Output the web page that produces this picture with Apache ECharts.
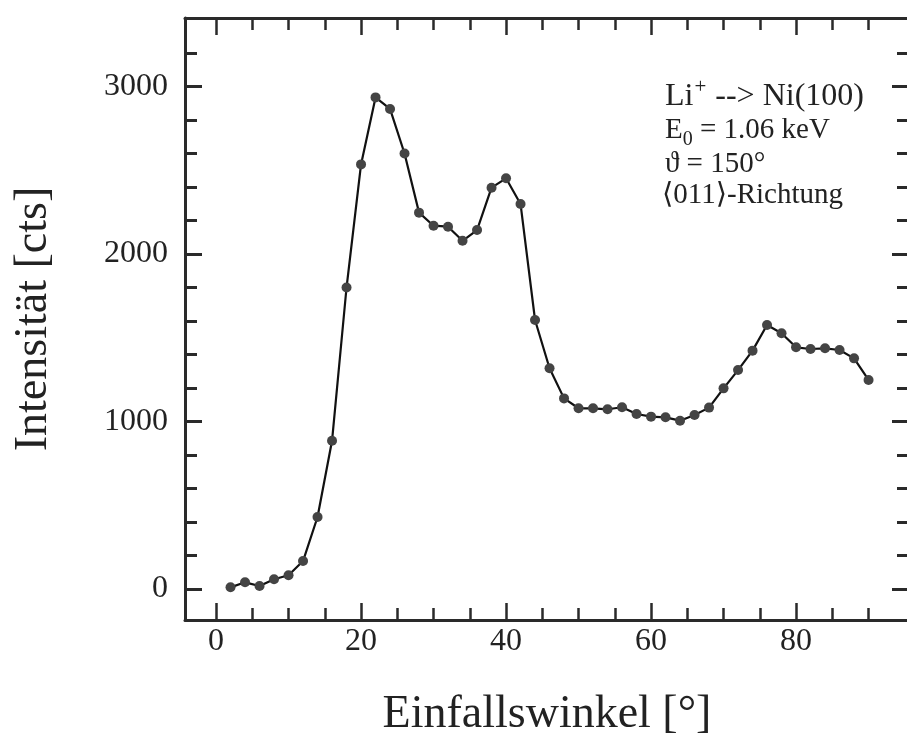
<!DOCTYPE html>
<html><head><meta charset="utf-8">
<script src="https://cdn.jsdelivr.net/npm/echarts@6/dist/echarts.min.js"></script>
<style>html,body{margin:0;padding:0;background:#fff}#c{width:907px;height:733px}</style>
</head><body><div id="c"></div>
<script>
// Data
const angles = [2,4,6,8,10,12,14,16,18,20,22,24,26,28,30,32,34,36,38,40,42,44,46,48,50,52,54,56,58,60,62,64,66,68,70,72,74,76,78,80,82,84,86,88,90];
const counts = [10,40,18,58,82,167,430,885,1800,2535,2935,2866,2600,2247,2169,2163,2079,2143,2396,2452,2299,1606,1318,1138,1079,1079,1073,1085,1045,1029,1025,1005,1039,1083,1198,1307,1423,1576,1527,1443,1433,1437,1427,1377,1248];
const xMajorTicks = [0,20,40,60,80];
const xMinorTicks = [5,10,15,25,30,35,45,50,55,65,70,75,85,90];
const yMajorTicks = [0,1000,2000,3000];
const yMinorTicks = [200,400,600,800,1200,1400,1600,1800,2200,2400,2600,2800,3200];
const xTitle = 'Einfallswinkel [°]';
const yTitle = 'Intensität [cts]';

const FONT = "'Liberation Serif','DejaVu Serif',serif";
const INK = '#222';
const X_MIN = -4.28, X_MAX = 95.58, Y_MIN = -185, Y_MAX = 3409;

function xAx(pos, ticks, len, line, labels, extra) {
  return Object.assign({
    type: 'value', position: pos, min: X_MIN, max: X_MAX,
    axisLine: {show: line, onZero: false, lineStyle: {color: '#2a2a2a', width: 3}},
    axisTick: {show: true, inside: true, length: len, customValues: ticks, lineStyle: {color: '#2a2a2a', width: 2.5}},
    axisLabel: labels ? {show: true, customValues: ticks, fontSize: 32, fontFamily: FONT, color: INK, margin: 6, formatter: v => String(v)} : {show: false},
    splitLine: {show: false}
  }, extra || {});
}
function yAx(pos, ticks, len, line, labels, extra) {
  return Object.assign({
    type: 'value', position: pos, min: Y_MIN, max: Y_MAX,
    axisLine: {show: line, onZero: false, lineStyle: {color: '#2a2a2a', width: 3}},
    axisTick: {show: true, inside: true, length: len, customValues: ticks, lineStyle: {color: '#2a2a2a', width: 3}},
    axisLabel: labels ? {show: true, customValues: ticks, fontSize: 32, fontFamily: FONT, color: INK, margin: 17, formatter: v => String(v)} : {show: false},
    splitLine: {show: false}
  }, extra || {});
}

const chart = echarts.init(document.getElementById('c'), null, {renderer: 'canvas'});
chart.setOption({
  backgroundColor: '#fff',
  animation: false,
  grid: {left: 185, right: -2, top: 18, bottom: 113, containLabel: false, outerBoundsMode: 'none'},
  xAxis: [
    xAx('bottom', xMajorTicks, 17, true, true, {
      name: xTitle, nameLocation: 'middle', nameGap: 72,
      nameTextStyle: {fontSize: 46, fontFamily: FONT, color: INK}
    }),
    xAx('bottom', xMinorTicks, 12, false, false),
    xAx('top', xMajorTicks, 17, true, false),
    xAx('top', xMinorTicks, 12, false, false)
  ],
  yAxis: [
    yAx('left', yMajorTicks, 17, true, true, {
      name: yTitle, nameLocation: 'middle', nameGap: 128, nameRotate: 90,
      nameTextStyle: {fontSize: 46, fontFamily: FONT, color: INK}
    }),
    yAx('left', yMinorTicks, 12, false, false),
    yAx('right', yMajorTicks, 17, false, false),
    yAx('right', yMinorTicks, 12, false, false)
  ],
  graphic: [
    {type: 'text', left: 665, top: 77, style: {
      text: '{a|Li}{s|+}{a| --> Ni(100)}',
      rich: {a: {fontSize: 32, fontFamily: FONT, fill: INK, lineHeight: 36, verticalAlign: 'bottom'},
             s: {fontSize: 21, fontFamily: FONT, fill: INK, lineHeight: 22, verticalAlign: 'top', padding: [0,1,0,1]}}
    }},
    {type: 'text', left: 665, top: 116, style: {
      text: '{a|E}{b|0}{a| = 1.06 keV}',
      rich: {a: {fontSize: 29, fontFamily: FONT, fill: INK, lineHeight: 34, verticalAlign: 'top'},
             b: {fontSize: 20, fontFamily: FONT, fill: INK, lineHeight: 34, verticalAlign: 'bottom'}}
    }},
    {type: 'text', left: 665, top: 150, style: {
      text: 'ϑ = 150°', fontSize: 29, fontFamily: FONT, fill: INK
    }},
    {type: 'text', left: 662, top: 181, style: {
      text: '⟨011⟩-Richtung', fontSize: 29, fontFamily: FONT, fill: INK
    }}
  ],
  series: [{
    type: 'line', xAxisIndex: 0, yAxisIndex: 0,
    data: angles.map((a, i) => [a, counts[i]]),
    symbol: 'circle', symbolSize: 10,
    itemStyle: {color: '#444'},
    lineStyle: {color: '#111', width: 2.2}
  }]
});
</script></body></html>
